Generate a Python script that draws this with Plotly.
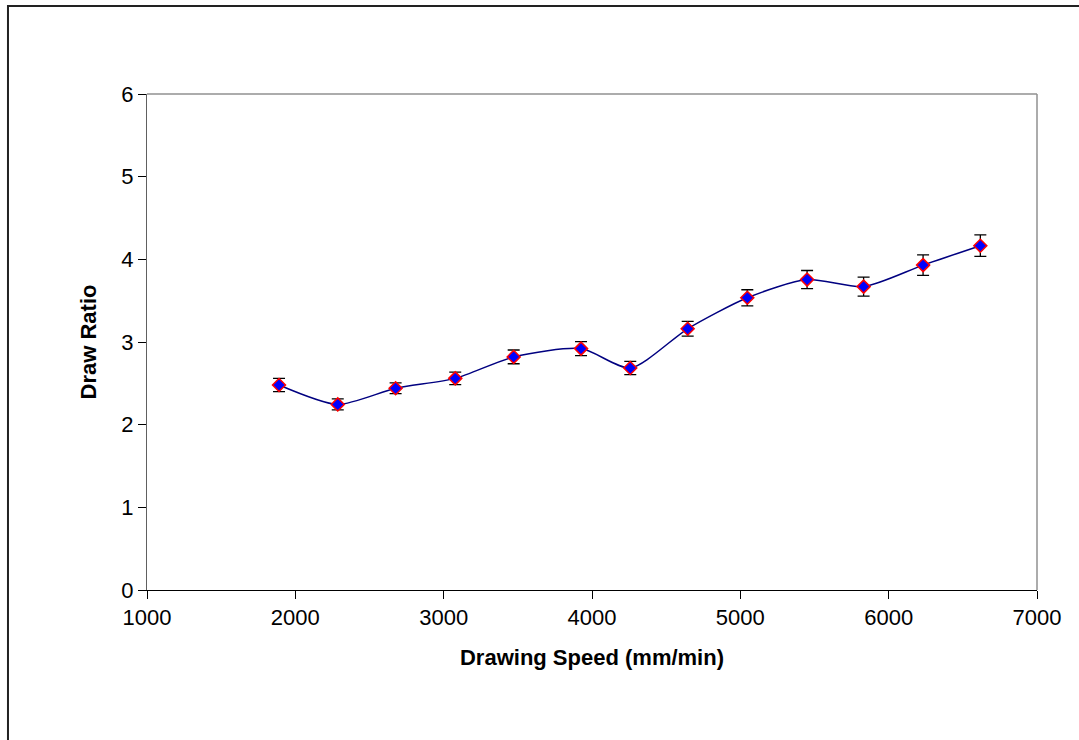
import plotly.graph_objects as go

# Drawing speed (mm/min) vs. draw ratio with standard deviation
speed = [1890, 2286, 2676, 3078, 3472, 3926, 4258, 4645, 5047, 5450, 5831, 6232, 6618]
draw_ratio = [2.48, 2.245, 2.44, 2.56, 2.82, 2.92, 2.685, 3.16, 3.535, 3.755, 3.67, 3.93, 4.165]
std_dev = [0.08, 0.067, 0.065, 0.075, 0.083, 0.085, 0.08, 0.09, 0.097, 0.11, 0.115, 0.123, 0.13]

x_ticks = [1000, 2000, 3000, 4000, 5000, 6000, 7000]
y_ticks = [0, 1, 2, 3, 4, 5, 6]

FONT = "Liberation Sans, Arial, sans-serif"

fig = go.Figure()
fig.add_trace(go.Scatter(
    x=speed,
    y=draw_ratio,
    mode="lines+markers",
    line=dict(color="#000080", width=1.5, shape="spline", smoothing=0.7),
    marker=dict(symbol="diamond", size=10, color="#0000ff",
                line=dict(color="#ff0000", width=1.5)),
    error_y=dict(type="data", array=std_dev, visible=True,
                 color="black", thickness=1.3, width=6),
    showlegend=False,
))

fig.update_layout(
    width=1079,
    height=740,
    margin=dict(l=147, r=42, t=94, b=150),
    paper_bgcolor="white",
    plot_bgcolor="white",
    font=dict(family=FONT, size=22, color="black"),
    xaxis=dict(
        range=[1000, 7000],
        tickvals=x_ticks,
        ticktext=[str(v) for v in x_ticks],
        showgrid=False,
        zeroline=False,
        showline=True,
        linecolor="black",
        linewidth=1,
        mirror=False,
        ticks="outside",
        ticklen=8,
        tickcolor="black",
        tickfont=dict(size=22),
        title=dict(text="<b>Drawing Speed (mm/min)</b>", font=dict(size=22), standoff=20),
    ),
    yaxis=dict(
        range=[0, 6],
        tickvals=y_ticks,
        showgrid=False,
        zeroline=False,
        showline=True,
        linecolor="#606060",
        linewidth=1,
        ticks="outside",
        ticklen=8,
        tickcolor="black",
        tickfont=dict(size=22),
        title=dict(text="<b>Draw Ratio</b>", font=dict(size=22), standoff=18),
    ),
    shapes=[
        # plot area frame (top and right edges)
        dict(type="line", xref="paper", yref="paper", x0=0, x1=1, y0=1, y1=1,
             line=dict(color="#909090", width=1.5)),
        dict(type="line", xref="paper", yref="paper", x0=1, x1=1, y0=0, y1=1,
             line=dict(color="#909090", width=1.5)),
        # chart area border
        dict(type="rect", xref="paper", yref="paper",
             x0=-0.1562, x1=1.06, y0=-0.32, y1=1.1774,
             line=dict(color="#222222", width=2), layer="below"),
    ],
)

fig.write_html("out.html")
